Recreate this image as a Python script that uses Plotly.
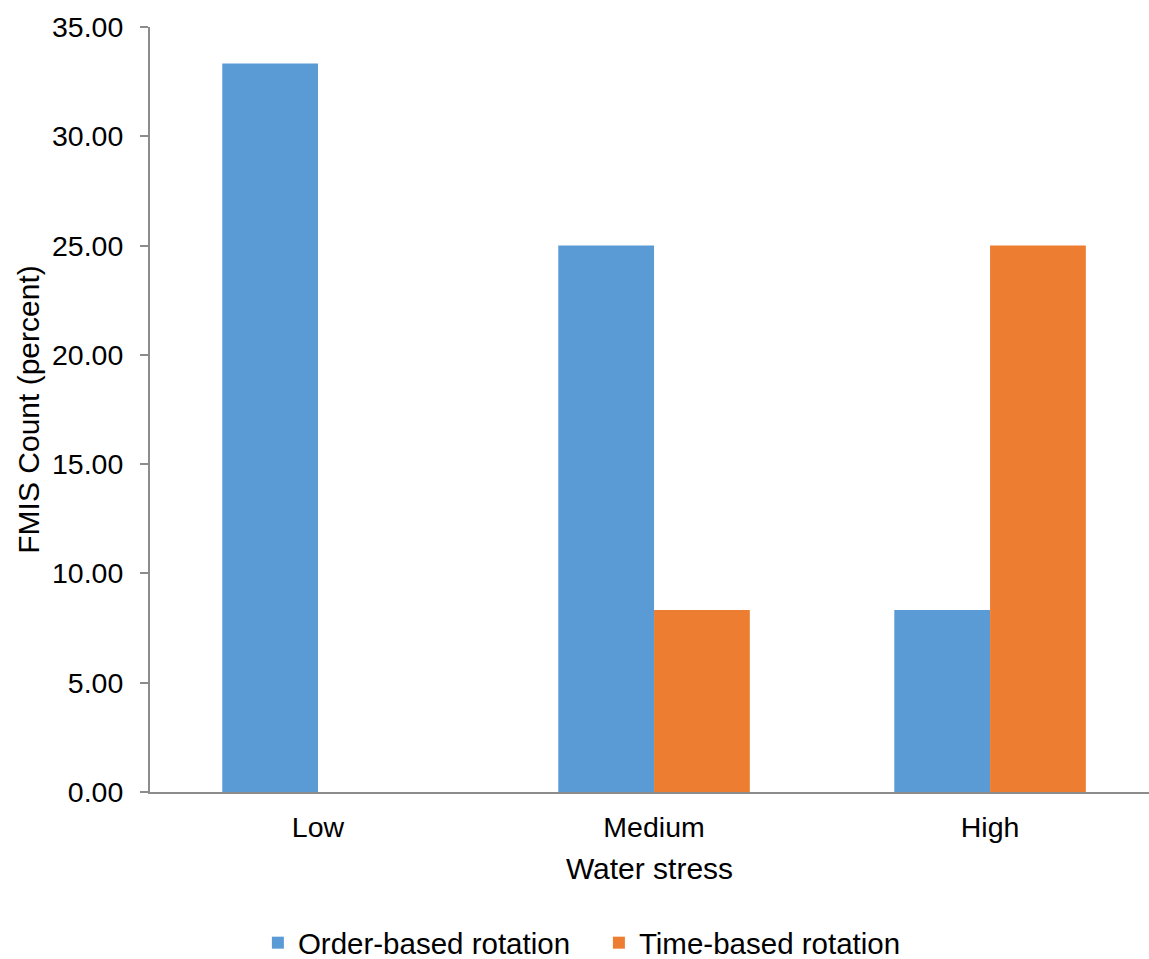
import plotly.graph_objects as go

categories = ["Low", "Medium", "High"]
order_based = [33.33, 25.00, 8.33]
time_based = [0.00, 8.33, 25.00]
y_ticks = [0, 5, 10, 15, 20, 25, 30, 35]

FONT = "Liberation Sans, Arial, sans-serif"
font = dict(family=FONT, size=28, color="#000000")

fig = go.Figure()
fig.add_trace(go.Bar(name="Order-based rotation", x=categories, y=order_based,
                     marker=dict(color="#5B9BD5", line=dict(width=0))))
fig.add_trace(go.Bar(name="Time-based rotation", x=categories, y=time_based,
                     marker=dict(color="#ED7D31", line=dict(width=0))))

fig.update_layout(
    width=1149, height=959,
    margin=dict(l=150, r=0, t=27, b=167, autoexpand=False),
    plot_bgcolor="white", paper_bgcolor="white",
    font=font,
    barmode="group", bargap=0.43, bargroupgap=0,
    showlegend=True,
    legend=dict(orientation="h", x=0.108, xanchor="left",
                y=16 / 959, yanchor="middle", yref="container",
                entrywidth=296, entrywidthmode="pixels",
                font=dict(family=FONT, size=29.5, color="#000000")),
    xaxis=dict(
        type="category", range=[-0.5, 2.473],
        showline=True, linecolor="#8C8C8C", linewidth=2,
        ticks="", showgrid=False, automargin=False,
        ticklabelstandoff=9,
        title=dict(text="Water stress", font=dict(family=FONT, size=30), standoff=16),
        tickfont=dict(family=FONT, size=28.5),
    ),
    yaxis=dict(
        range=[0, 35], tickvals=y_ticks, ticktext=[f"{v:.2f}" for v in y_ticks],
        showline=True, linecolor="#8C8C8C", linewidth=2,
        ticks="outside", ticklen=8, tickcolor="#8C8C8C", tickwidth=2,
        ticklabelstandoff=11,
        showgrid=False, zeroline=False, automargin=False,
        title=dict(text="FMIS Count (percent)", font=dict(family=FONT, size=30), standoff=3),
        tickfont=dict(family=FONT, size=28.5),
    ),
)

fig.write_html("out.html", config={"displayModeBar": False},
               post_script="document.body.style.margin='0';")
